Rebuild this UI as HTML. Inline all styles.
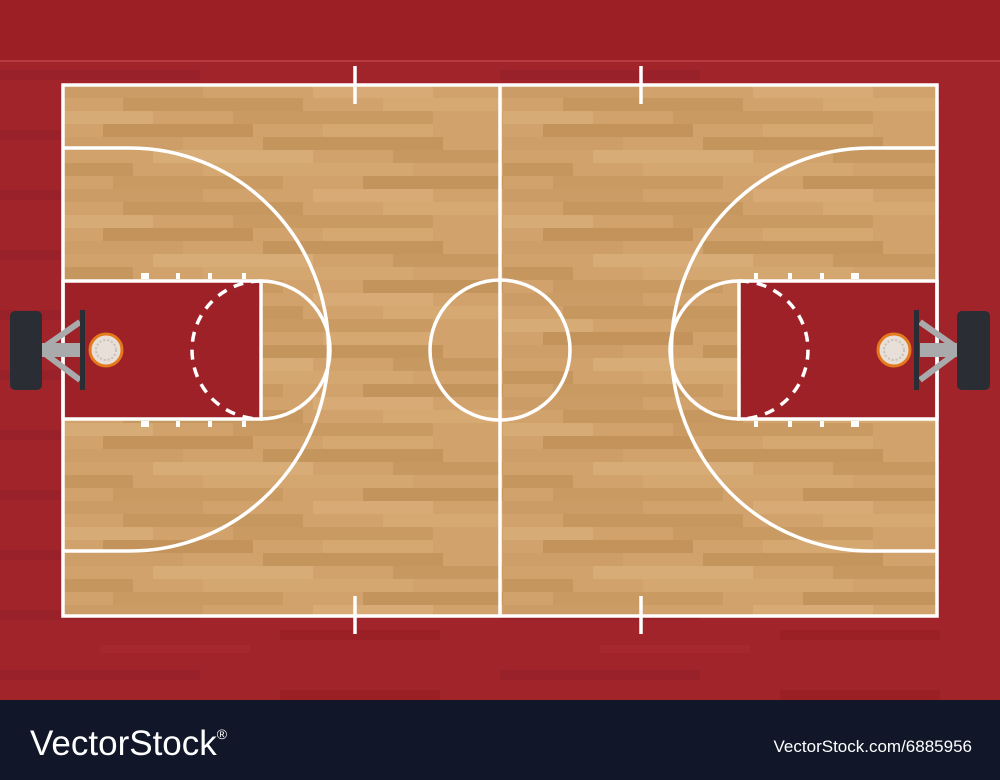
<!DOCTYPE html>
<html><head><meta charset="utf-8"><style>
html,body{margin:0;padding:0;width:1000px;height:780px;overflow:hidden;background:#9c1f24}
svg{display:block}
</style></head><body>
<svg width="1000" height="780" viewBox="0 0 1000 780">
<defs>
<pattern id="wood" x="63" y="85" width="440" height="104" patternUnits="userSpaceOnUse">
<rect width="440" height="104" fill="#d2a26c"/>
<rect x="0" y="0" width="140" height="13" fill="#cb9c65"/>
<rect x="250" y="0" width="120" height="13" fill="#d8ab76"/>
<rect x="60" y="13" width="180" height="13" fill="#c79760"/>
<rect x="320" y="13" width="120" height="13" fill="#d6a872"/>
<rect x="0" y="26" width="90" height="13" fill="#d7ab75"/>
<rect x="170" y="26" width="200" height="13" fill="#ca9a63"/>
<rect x="40" y="39" width="150" height="13" fill="#c4935c"/>
<rect x="260" y="39" width="110" height="13" fill="#d5a771"/>
<rect x="0" y="52" width="120" height="13" fill="#cd9e67"/>
<rect x="200" y="52" width="180" height="13" fill="#c5955e"/>
<rect x="90" y="65" width="160" height="13" fill="#d8ac77"/>
<rect x="330" y="65" width="110" height="13" fill="#c89861"/>
<rect x="0" y="78" width="70" height="13" fill="#c6965f"/>
<rect x="140" y="78" width="210" height="13" fill="#d4a670"/>
<rect x="50" y="91" width="170" height="13" fill="#ca9a63"/>
<rect x="300" y="91" width="140" height="13" fill="#c4945d"/>
</pattern>
<pattern id="redstripes" x="0" y="60" width="500" height="60" patternUnits="userSpaceOnUse">
<rect width="500" height="60" fill="#a0242a"/>
<rect x="0" y="10" width="200" height="10" fill="#98212a"/>
<rect x="280" y="30" width="160" height="10" fill="#9a2026"/>
<rect x="100" y="45" width="150" height="8" fill="#a6272d"/>
</pattern>
</defs>
<rect x="0" y="0" width="1000" height="60" fill="#9b1f24"/>
<rect x="0" y="60" width="1000" height="640" fill="url(#redstripes)"/>
<rect x="0" y="60" width="1000" height="2" fill="#b83a3e"/>
<rect x="63" y="85" width="874" height="531" fill="url(#wood)"/>
<rect x="63" y="281" width="198" height="138" fill="#9d2127"/>
<rect x="739" y="281" width="198" height="138" fill="#9d2127"/>
<g fill="none" stroke="#fff" stroke-width="3.5">
<rect x="63" y="85" width="874" height="531"/>
<line x1="500" y1="85" x2="500" y2="616"/>
<circle cx="500" cy="350" r="70"/>
<line x1="355" y1="66" x2="355" y2="104"/><line x1="641" y1="66" x2="641" y2="104"/>
<line x1="355" y1="596" x2="355" y2="634"/><line x1="641" y1="596" x2="641" y2="634"/>
<path d="M63,148 L130,148 A198,201 0 0 1 130,551 L63,551"/>
<path d="M937,148 L870,148 A198,201 0 0 0 870,551 L937,551"/>
<rect x="63" y="281" width="198" height="138"/>
<rect x="739" y="281" width="198" height="138"/>
<path d="M261,281 A69,69 0 0 1 261,419"/>
<path d="M261,281 A69,69 0 0 0 261,419" stroke-dasharray="10,8"/>
<path d="M739,281 A69,69 0 0 0 739,419"/>
<path d="M739,281 A69,69 0 0 1 739,419" stroke-dasharray="10,8"/>
</g>
<g fill="#fff">
<rect x="141" y="273" width="8" height="6"/><rect x="176" y="273" width="4" height="6"/><rect x="208" y="273" width="4" height="6"/><rect x="242" y="273" width="4" height="6"/>
<rect x="141" y="421" width="8" height="6"/><rect x="176" y="421" width="4" height="6"/><rect x="208" y="421" width="4" height="6"/><rect x="242" y="421" width="4" height="6"/>
<rect x="851" y="273" width="8" height="6"/><rect x="820" y="273" width="4" height="6"/><rect x="788" y="273" width="4" height="6"/><rect x="754" y="273" width="4" height="6"/>
<rect x="851" y="421" width="8" height="6"/><rect x="820" y="421" width="4" height="6"/><rect x="788" y="421" width="4" height="6"/><rect x="754" y="421" width="4" height="6"/>
</g>
<g>
<path d="M40,350 L80,322 M40,350 L80,380" stroke="#a9aaac" stroke-width="6" fill="none"/>
<rect x="22" y="343" width="58" height="14" fill="#a9aaac"/>
<rect x="10" y="311" width="32" height="79" rx="5" fill="#2a2d33"/>
<rect x="80" y="310" width="5" height="80" fill="#2a2d33"/>
<circle cx="106" cy="350" r="16" fill="#e8e0d8" stroke="#e47a1c" stroke-width="3"/>
<circle cx="106" cy="350" r="10" fill="none" stroke="#c8c0b8" stroke-width="2" stroke-dasharray="2,2"/>
</g>
<g>
<path d="M960,350 L920,322 M960,350 L920,380" stroke="#a9aaac" stroke-width="6" fill="none"/>
<rect x="920" y="343" width="58" height="14" fill="#a9aaac"/>
<rect x="957" y="311" width="33" height="79" rx="5" fill="#2a2d33"/>
<rect x="914" y="310" width="5" height="80" fill="#2a2d33"/>
<circle cx="894" cy="350" r="16" fill="#e8e0d8" stroke="#e47a1c" stroke-width="3"/>
<circle cx="894" cy="350" r="10" fill="none" stroke="#c8c0b8" stroke-width="2" stroke-dasharray="2,2"/>
</g>
<rect x="0" y="700" width="1000" height="80" fill="#111628"/>
<text x="30" y="755" fill="#fff" font-family="Liberation Sans, sans-serif" font-size="35">VectorStock<tspan font-size="14" dy="-16">®</tspan></text>
<text x="972" y="752" fill="#fff" text-anchor="end" font-family="Liberation Sans, sans-serif" font-size="17">VectorStock.com/6885956</text>
</svg>
</body></html>
